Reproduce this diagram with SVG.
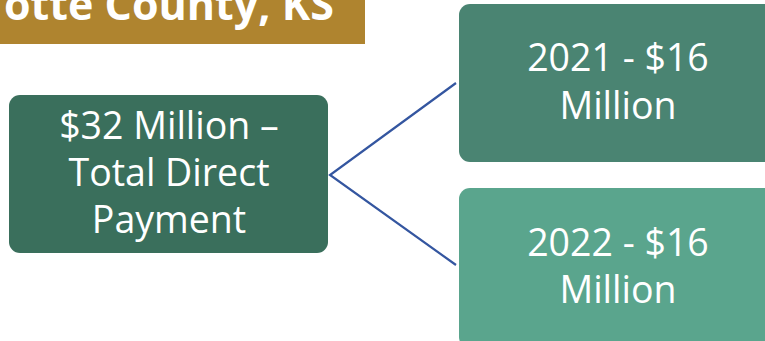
<svg xmlns="http://www.w3.org/2000/svg" width="765" height="341" viewBox="0 0 765 341">
<style>
.t{font-family:"Open Sans","Noto Sans","Liberation Sans",sans-serif;fill:#ffffff;text-anchor:middle;font-size:37.5px}
.b{font-family:"Open Sans","Noto Sans","Liberation Sans",sans-serif;fill:#ffffff;font-weight:bold;font-size:43px}
.c{fill:none;stroke:#3456A0;stroke-width:2.2}
</style>
<rect width="765" height="341" fill="#ffffff"/>
<g id="banner">
<rect x="0" y="0" width="365" height="44" fill="#AF842F"/>
<text class="b" x="4" y="20">otte County, KS</text>
</g>
<g id="connectors">
<polyline class="c" points="456,83 330,175 456,265"/>
</g>
<g id="total">
<rect x="9" y="95" width="319" height="158" rx="11" fill="#3A6F5C"/>
<text class="t" x="169" y="139">$32 Million –</text>
<text class="t" x="169" y="186">Total Direct</text>
<text class="t" x="169" y="233">Payment</text>
</g>
<g id="y2021">
<rect x="459" y="4" width="318" height="158" rx="11" fill="#4A8472"/>
<text class="t" x="618" y="71">2021 - $16</text>
<text class="t" x="618" y="119">Million</text>
</g>
<g id="y2022">
<rect x="459" y="188" width="318" height="160" rx="11" fill="#5AA58D"/>
<text class="t" x="618" y="256">2022 - $16</text>
<text class="t" x="618" y="303">Million</text>
</g>
</svg>
